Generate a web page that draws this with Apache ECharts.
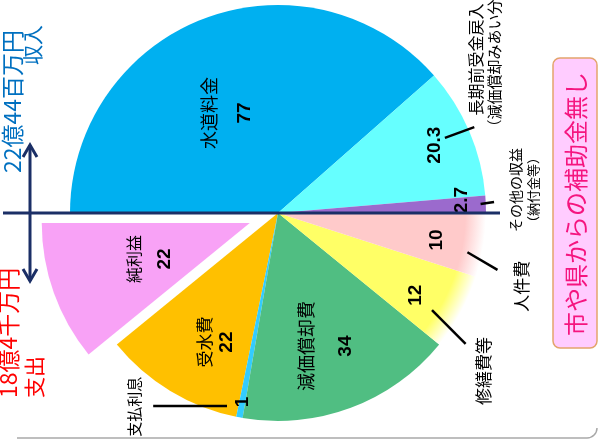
<!DOCTYPE html>
<html>
<head>
<meta charset="utf-8">
<script src="https://cdn.jsdelivr.net/npm/echarts@6/dist/echarts.min.js"></script>
<style>
html, body { margin: 0; padding: 0; background: #fff; }
#c { width: 599px; height: 448px; }
</style>
</head>
<body>
<div id="c"></div>
<script>
// Revenue (upper half) and expenditure (lower half), in percent of revenue
const incomeNames = ['水道料金', '長期前受金戻入', 'その他の収益'];
const incomeNotes = ['', '（減価償却みあい分）', '（納付金等）'];
const incomeValues = [77, 20.3, 2.7];
const expenseNames = ['純利益', '受水費', '支払利息', '減価償却費', '修繕費等', '人件費'];
const expenseNotes = ['', '', '', '', '', ''];
const expenseValues = [22, 22, 1, 34, 12, 10];
const incomeTotal = '22億44百万円';
const incomeCaption = '収入';
const expenseTotal = '18億4千万円';
const expenseCaption = '支出';
const subsidyNote = '市や県からの補助金無し';

// ---- geometry & styling ----
const CX = 278, CY = 213, R = 208;
const EXPLODE = 30;
const JP = '"Noto Sans CJK JP", "Noto Sans", sans-serif';
const NUM = '"Liberation Sans", Arial, sans-serif';
const incomeColors = ['#00B0F0', '#66FFFF', '#9B6ACD'];
const expenseColors = ['#F8A2F6', '#FFC000', '#33CCFF', '#50BE82', '#FFFF66', '#FFCACA'];
const softEdge = [false, false, false, false, true, true];

// label placement: [radius fraction, angle shift from slice middle in degrees]
const incomeInner = [[0.54, 6.3], [0.82, 0.3], [0.885, 1.6]];
const expenseInner = [[0.745, 1.2], [0.69, 5.3], [0.925, 0], [0.68, -0.7], [0.77, -2.4], [0.775, -0.7]];
// inside block (name + value): [name font size, line gap] or null for value only
const incomeBlock = [[18, 35], null, null];
const expenseBlock = [[16, 31], [17, 22], null, [18, 39], null, null];
// outside names with a short leader tick
const incomeOuter = [
  null,
  { at: [1.24, 13.4], line: [[0.88, 1.1], [1.03, 0.5]], size: [16, 15], gap: 18 },
  { at: [1.19, 2.9], line: [[0.975, 0.1], [1.04, 0.5]], size: [14, 13], gap: 18 }
];
const expenseOuter = [
  null, null,
  { at: [1.16, -25.9], line: [[0.96, -4.1], [1.105, -22.2]], size: [15, 13], gap: 18 },
  null,
  { at: [1.245, -9.1], line: [[0.875, -3.7], [1.1, -6.4]], size: [17, 13], gap: 18 },
  { at: [1.225, -7.8], line: [[0.93, -2.8], [1.09, -5.6]], size: [17, 13], gap: 18 }
];

function midAngles(values, start, dir) {
  const total = values.reduce((a, b) => a + b, 0);
  let acc = 0;
  return values.map(v => {
    const m = start + dir * (acc + v / 2) / total * 180;
    acc += v;
    return m;
  });
}
const incomeMid = midAngles(incomeValues, 180, -1);
const expenseMid = midAngles(expenseValues, 180, 1);

function polar(deg, f, off) {
  const a = deg * Math.PI / 180;
  const o = off || [0, 0];
  return [CX + o[0] + Math.cos(a) * R * f, CY + o[1] - Math.sin(a) * R * f];
}
function explodeOffset(deg) {
  const a = deg * Math.PI / 180;
  return [Math.cos(a) * EXPLODE, -Math.sin(a) * EXPLODE];
}

function fillFor(color, soft) {
  if (!soft) return color;
  return {
    type: 'radial', x: CX, y: CY, r: R, global: true,
    colorStops: [
      { offset: 0, color: color },
      { offset: 0.9, color: color },
      { offset: 1, color: '#ffffff' }
    ]
  };
}

function valueSeries(names, values, colors, soft, inner, block, mids, start, end, clockwise, explodeIdx) {
  return {
    type: 'pie',
    center: [CX, CY],
    radius: [0, R],
    startAngle: start,
    endAngle: end,
    clockwise: clockwise,
    avoidLabelOverlap: false,
    selectedMode: 'single',
    selectedOffset: EXPLODE,
    emphasis: { disabled: true },
    silent: true,
    animation: false,
    itemStyle: { borderWidth: 0 },
    labelLine: { show: false },
    data: names.map((n, i) => {
      const b = block[i];
      const v = String(values[i]);
      return {
        name: n,
        value: values[i],
        selected: i === explodeIdx,
        itemStyle: { color: fillFor(colors[i], soft && soft[i]) },
        label: {
          show: true,
          position: 'inside',
          rotate: 90,
          formatter: b ? '{n|' + n + '}\n{v|' + v + '}' : '{v|' + v + '}',
          rich: {
            n: { fontFamily: JP, fontSize: b ? b[0] : 16, color: '#000', lineHeight: b ? b[1] : 20 },
            v: { fontFamily: NUM, fontSize: 19, fontWeight: 'bold', color: '#000', lineHeight: b ? b[1] : 20 }
          }
        }
      };
    }),
    labelLayout: function (p) {
      const i = p.dataIndex;
      const off = i === explodeIdx ? explodeOffset(mids[i]) : null;
      const pt = polar(mids[i] + inner[i][1], inner[i][0], off);
      return { x: pt[0], y: pt[1], align: 'center', verticalAlign: 'middle' };
    }
  };
}

function nameSeries(names, notes, values, outer, mids, start, end, clockwise) {
  return {
    type: 'pie',
    center: [CX, CY],
    radius: [0, R],
    startAngle: start,
    endAngle: end,
    clockwise: clockwise,
    avoidLabelOverlap: false,
    emphasis: { disabled: true },
    silent: true,
    animation: false,
    z: 5,
    itemStyle: { color: 'rgba(0,0,0,0)', borderWidth: 0 },
    data: names.map((n, i) => {
      const o = outer[i];
      return {
        name: n,
        value: values[i],
        label: o ? {
          show: true,
          position: 'outside',
          rotate: 90,
          formatter: notes[i] ? '{n|' + n + '}\n{s|' + notes[i] + '}' : '{n|' + n + '}',
          rich: {
            n: { fontFamily: JP, fontSize: o.size[0], color: '#000', lineHeight: o.gap },
            s: { fontFamily: JP, fontSize: o.size[1], color: '#000', lineHeight: o.gap }
          }
        } : { show: false },
        labelLine: o ? { show: true, lineStyle: { color: '#000', width: 2.5 } } : { show: false }
      };
    }),
    labelLayout: function (p) {
      const i = p.dataIndex;
      const o = outer[i];
      if (!o) return {};
      const pt = polar(mids[i] + o.at[1], o.at[0]);
      const a = polar(mids[i] + o.line[0][1], o.line[0][0]);
      const b = polar(mids[i] + o.line[1][1], o.line[1][0]);
      return {
        x: pt[0], y: pt[1], align: 'center', verticalAlign: 'middle',
        labelLinePoints: [a, b, b]
      };
    }
  };
}

const NAVY = '#1B2F66';
const chart = echarts.init(document.getElementById('c'), null, { renderer: 'canvas' });
chart.setOption({
  backgroundColor: '#ffffff',
  animation: false,
  series: [
    valueSeries(incomeNames, incomeValues, incomeColors, null, incomeInner, incomeBlock, incomeMid, 180, 0, true, -1),
    valueSeries(expenseNames, expenseValues, expenseColors, softEdge, expenseInner, expenseBlock, expenseMid, 180, 360, false, 0),
    nameSeries(incomeNames, incomeNotes, incomeValues, incomeOuter, incomeMid, 180, 0, true),
    nameSeries(expenseNames, expenseNotes, expenseValues, expenseOuter, expenseMid, 180, 360, false)
  ],
  graphic: [
    // frame corner at the bottom
    { type: 'line', z: 1, shape: { x1: 17, y1: 438, x2: 587, y2: 438 }, style: { stroke: '#A8A8A8', lineWidth: 1.5 } },
    { type: 'arc', z: 1, shape: { cx: 587, cy: 428, r: 10, startAngle: 0, endAngle: Math.PI / 2 }, style: { stroke: '#A8A8A8', lineWidth: 1.5, fill: null } },
    // dividing line between revenue and expenditure
    { type: 'line', z: 100, shape: { x1: 3, y1: 213, x2: 500, y2: 213 }, style: { stroke: NAVY, lineWidth: 3 } },
    // double arrow
    { type: 'line', z: 100, shape: { x1: 30, y1: 145, x2: 30, y2: 281 }, style: { stroke: NAVY, lineWidth: 3 } },
    { type: 'polyline', z: 100, shape: { points: [[23, 157], [30, 145], [37, 157]] }, style: { stroke: NAVY, lineWidth: 3, fill: null } },
    { type: 'polyline', z: 100, shape: { points: [[23, 269], [30, 281], [37, 269]] }, style: { stroke: NAVY, lineWidth: 3, fill: null } },
    // totals
    { type: 'text', z: 100, x: 12, y: 30, rotation: Math.PI / 2,
      style: { text: incomeTotal, fill: '#0070C0', font: '23px ' + JP, align: 'right', verticalAlign: 'middle' } },
    { type: 'text', z: 100, x: 33, y: 25, rotation: Math.PI / 2,
      style: { text: incomeCaption, fill: '#0070C0', font: '20px ' + JP, align: 'right', verticalAlign: 'middle' } },
    { type: 'text', z: 100, x: 8, y: 398, rotation: Math.PI / 2,
      style: { text: expenseTotal, fill: '#FF0000', font: '23px ' + JP, align: 'left', verticalAlign: 'middle' } },
    { type: 'text', z: 100, x: 34, y: 398, rotation: Math.PI / 2,
      style: { text: expenseCaption, fill: '#FF0000', font: '21px ' + JP, align: 'left', verticalAlign: 'middle' } },
    // subsidy note box
    { type: 'rect', z: 100, shape: { x: 553, y: 58, width: 44, height: 290, r: 7 },
      style: { fill: '#FFCCFF', stroke: '#E3A46C', lineWidth: 1.5 } },
    { type: 'text', z: 101, x: 576, y: 204, rotation: Math.PI / 2,
      style: { text: subsidyNote, fill: '#F5157F', font: '24px ' + JP, align: 'center', verticalAlign: 'middle' } }
  ]
});
</script>
</body>
</html>
